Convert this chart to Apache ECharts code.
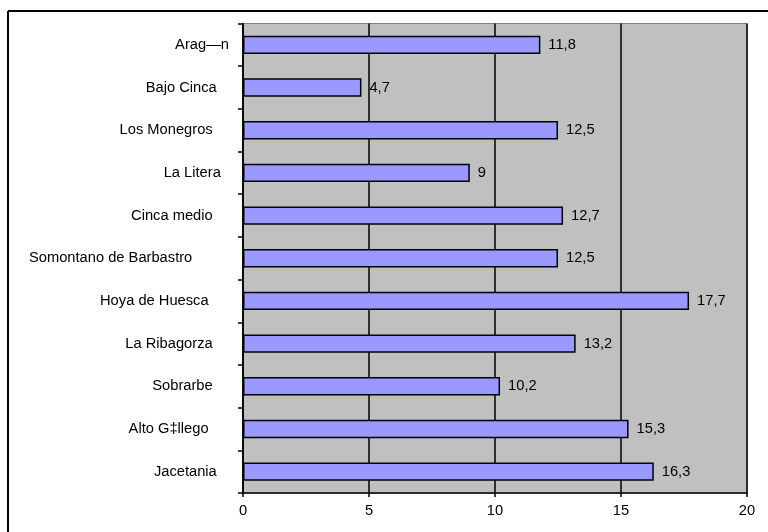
<!DOCTYPE html>
<html>
<head>
<meta charset="utf-8">
<script src="https://cdn.jsdelivr.net/npm/echarts@6/dist/echarts.min.js"></script>
<style>html,body{margin:0;padding:0;background:#fff}#c{width:768px;height:532px}</style>
</head>
<body>
<div id="c"></div>
<script>
var categories = ['Arag—n','Bajo Cinca   ','Los Monegros    ','La Litera  ','Cinca medio    ','Somontano de Barbastro         ','Hoya de Huesca     ','La Ribagorza    ','Sobrarbe    ','Alto G‡llego     ','Jacetania   '];
var values = [11.8, 4.7, 12.5, 9, 12.7, 12.5, 17.7, 13.2, 10.2, 15.3, 16.3];
var xTicks = [0, 5, 10, 15, 20];

var chart = echarts.init(document.getElementById('c'), null, {renderer:'canvas'});
var font = 'Liberation Sans, Arial, sans-serif';
var fs = 14.7;
chart.setOption({
  animation: false,
  grid: {left: 243, right: 21, top: 23.5, bottom: 39, show: true, backgroundColor: '#c0c0c0', borderColor: '#808080', borderWidth: 1},
  graphic: [
    {type: 'line', shape: {x1: 8, y1: 11, x2: 8, y2: 540}, style: {stroke: '#000', lineWidth: 2}},
    {type: 'line', shape: {x1: 8, y1: 11, x2: 780, y2: 11}, style: {stroke: '#000', lineWidth: 2}}
  ],
  xAxis: {
    type: 'value', min: xTicks[0], max: xTicks[xTicks.length-1], interval: 5,
    axisLine: {show: true, lineStyle: {color: '#000', width: 1.5}},
    axisTick: {show: true, length: 4, lineStyle: {color: '#000', width: 1.5}},
    axisLabel: {color: '#000', fontFamily: font, fontSize: fs, margin: 10},
    splitLine: {show: true, lineStyle: {color: '#000', width: 1.5}}
  },
  yAxis: {
    type: 'category', data: categories, inverse: true,
    axisLine: {show: true, lineStyle: {color: '#000', width: 1.5}},
    axisTick: {show: true, length: 5, lineStyle: {color: '#000', width: 1.5}},
    axisLabel: {color: '#000', fontFamily: font, fontSize: fs, margin: 14},
    splitLine: {show: false}
  },
  series: [{
    type: 'bar', data: values, barWidth: '43%',
    itemStyle: {color: '#9999ff', borderColor: '#000', borderWidth: 1.5},
    label: {show: true, position: 'right', distance: 8, color: '#000', fontFamily: font, fontSize: fs,
      formatter: function(p){ return String(p.value).replace('.', ','); }}
  }]
});
</script>
</body>
</html>
